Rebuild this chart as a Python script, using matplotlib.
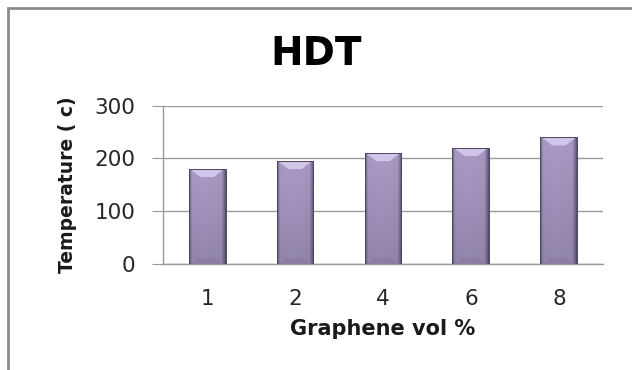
import matplotlib.pyplot as plt
import numpy as np
from matplotlib.patches import Polygon, Rectangle
from matplotlib.colors import to_rgb

categories = ["1", "2", "4", "6", "8"]
hdt_values = [180, 195, 210, 220, 240]
y_ticks = [0, 100, 200, 300]

plt.rcParams['font.family'] = ['DejaVu Sans']

fig = plt.figure(figsize=(6.32, 3.70), dpi=100)
ax = fig.add_axes([0.258, 0.287, 0.696, 0.427])

x = np.arange(len(categories))
bars = ax.bar(x, hdt_values, width=0.42, color='none', zorder=3)

# shaded fill for each bar: thin dark edges, flat lavender body
light = np.array(to_rgb('#aa9bc6'))
dark = np.array(to_rgb('#5a4f6c'))
nx, ny = 80, 60
t = np.linspace(0, 1, nx)
prof = np.ones(nx)
prof = np.minimum(prof, np.clip(t / 0.08, 0, 1) ** 0.7)
prof = np.minimum(prof, np.clip((1 - t) / 0.12, 0, 1) ** 0.8)
prof *= 1 - 0.08 * np.abs(t - 0.4)
v = np.linspace(1.0, 0.86, ny)[:, None]   # row 0 = top of bar
grad = (dark + (light - dark) * prof[None, :, None]) * v[..., None]
grad = np.clip(grad, 0, 1)

px_per_unit = 158 / 300.0
for b in bars:
    x0, w, h = b.get_x(), b.get_width(), b.get_height()
    ax.imshow(grad, extent=(x0, x0 + w, 0, h), origin='upper', aspect='auto',
              zorder=3, interpolation='bilinear')
    bev = 8 / px_per_unit
    ax.add_patch(Polygon([(x0 + w * 0.04, h), (x0 + w * 0.96, h),
                          (x0 + w * 0.68, h - bev), (x0 + w * 0.32, h - bev)],
                         closed=True, facecolor='#d6c9ee', edgecolor='none',
                         alpha=0.9, zorder=4))
    ax.add_patch(Polygon([(x0 + w * 0.1, 0), (x0 + w * 0.9, 0),
                          (x0 + w * 0.7, bev * 0.7), (x0 + w * 0.3, bev * 0.7)],
                         closed=True, facecolor='#7d7092', edgecolor='none',
                         alpha=0.35, zorder=4))
    ax.add_patch(Rectangle((x0, 0), w, h, facecolor='none', edgecolor='#4e445e',
                           linewidth=0.7, zorder=5))

ax.set_xlim(-0.5, len(categories) - 0.5)
ax.set_ylim(0, 300)
ax.set_yticks(y_ticks)
ax.set_xticks(x)
ax.set_xticklabels(categories)
ax.yaxis.grid(True, color='#9a9a9a', linewidth=1.0, zorder=1)
ax.set_axisbelow(True)

for side in ['top', 'right']:
    ax.spines[side].set_visible(False)
for side in ['left', 'bottom']:
    ax.spines[side].set_color('#9a9a9a')
    ax.spines[side].set_linewidth(1.0)

ax.tick_params(axis='y', length=8, color='#9a9a9a', labelsize=15.5, pad=12,
               labelcolor='#262626')
ax.tick_params(axis='x', length=0, labelsize=15.5, pad=18, labelcolor='#262626')

ax.set_ylabel('Temperature ( c)', fontsize=13.5, fontweight='bold', va='center',
              color='#1a1a1a')
ax.yaxis.set_label_coords(-0.218, 0.5)
ax.set_xlabel('Graphene vol %', fontsize=15, fontweight='bold', va='center',
              color='#1a1a1a')
ax.xaxis.set_label_coords(0.5, -0.411)
fig.text(0.5, 0.855, 'HDT', fontsize=28, fontweight='bold', ha='center', va='center')

# outer chart border
fig.add_artist(Rectangle((8 / 632, -0.1), 1.1, 1 - 8 / 370 + 0.1,
                         transform=fig.transFigure, facecolor='none',
                         edgecolor='#8c8c8c', linewidth=2.0))

fig.savefig('out.png', dpi=100)
